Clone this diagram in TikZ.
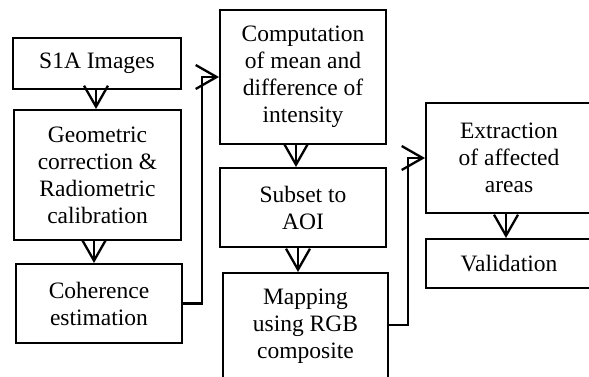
\documentclass[tikz,border=0pt]{standalone}
\usepackage{fontspec}
\setmainfont{Liberation Serif}
\usetikzlibrary{arrows.meta}

\begin{document}
\begin{tikzpicture}[x=1pt, y=-1pt,
        stepbox/.style={draw, line width=2pt, align=center, inner sep=0pt,
            font=\fontsize{23.5}{27}\selectfont},
        flow/.style={line width=2.3pt, -{Straight Barb[length=21pt, width=24pt, line width=2.3pt]}}]
        \clip (0, 0) rectangle (589, 377);
        % first column
        \node[stepbox, minimum width=168pt, minimum height=51pt] (s1a) at (97, 63.5) {S1A Images};
        \node[stepbox, minimum width=167pt, minimum height=130pt] (geo) at (97.5, 175) {Geometric\\correction \&\\Radiometric\\calibration};
        \node[stepbox, minimum width=166pt, minimum height=79pt] (coh) at (99, 303.5) {Coherence\\estimation};
        % second column
        \node[stepbox, minimum width=166pt, minimum height=134pt] (comp) at (303, 77) {Computation\\of mean and\\difference of\\intensity};
        \node[stepbox, minimum width=166pt, minimum height=79pt] (aoi) at (303, 207.5) {Subset to\\AOI};
        \node[stepbox, minimum width=165pt, minimum height=107pt] (rgb) at (305.5, 326.5) {Mapping\\using RGB\\composite};
        % third column
        \node[stepbox, minimum width=166pt, minimum height=110pt] (extr) at (509, 158) {Extraction\\of affected\\areas};
        \node[stepbox, minimum width=166pt, minimum height=49pt] (valid) at (509, 263.5) {Validation};

        \draw[flow] (s1a.south -| 96, 0) -- (geo.north -| 96, 0);
        \draw[flow] (geo.south -| 94, 0) -- (coh.north -| 94, 0);
        \draw[flow] (comp.south -| 296, 0) -- (aoi.north -| 296, 0);
        \draw[flow] (aoi.south -| 298, 0) -- (rgb.north -| 298, 0);
        \draw[flow] (extr.south -| 506, 0) -- (valid.north -| 506, 0);
        % links between columns
        \draw[flow] (coh.east) -- ++(19, 0) |- (comp.west);
        \draw[flow] (rgb.east |- 0, 325) -- ++(19, 0) |- (extr.west);
\end{tikzpicture}
\end{document}
